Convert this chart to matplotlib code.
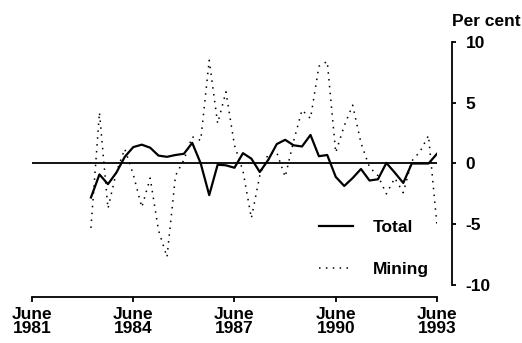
import matplotlib
matplotlib.use("Agg")
import matplotlib.pyplot as plt
import pandas as pd

plt.rcParams['font.family'] = ['Liberation Sans', 'DejaVu Sans']
plt.rcParams['axes.unicode_minus'] = False

# Quarterly data, March 1983 to June 1993
dates = pd.date_range('1983-03-01', '1993-06-01', freq='3MS')
total = [-2.8, -0.9, -1.7, -0.75, 0.55, 1.35, 1.55, 1.3, 0.65, 0.55,
         0.7, 0.8, 1.7, 0.0, -2.6, -0.1, -0.15, -0.35, 0.85, 0.4,
         -0.7, 0.3, 1.6, 1.95, 1.5, 1.4, 2.35, 0.6, 0.7, -1.1,
         -1.85, -1.2, -0.45, -1.4, -1.3, 0.05, -0.75, -1.6, 0.0, 0.0,
         0.0, 0.8]
mining = [-5.3, 4.2, -3.7, -0.7, 1.2, -0.9, -3.6, -1.2, -5.5, -7.7,
          -1.0, 0.3, 2.2, 1.9, 8.5, 3.3, 5.9, 1.5, -0.6, -4.5,
          -1.0, 0.8, 0.9, -1.1, 1.8, 4.4, 3.7, 8.0, 8.4, 0.9,
          3.1, 4.8, 1.7, -0.3, -1.0, -2.5, -1.2, -2.4, 0.2, 1.0,
          2.3, -5.1]

tick_dates = pd.to_datetime(['1981-06-01', '1984-06-01', '1987-06-01',
                             '1990-06-01', '1993-06-01'])
tick_labels = ['June\n1981', 'June\n1984', 'June\n1987', 'June\n1990', 'June\n1993']
y_ticks = [10, 5, 0, -5, -10]

W, H = 522, 343
FS = 12.5
fig = plt.figure(figsize=(W / 100, H / 100), dpi=100)
ax = fig.add_axes([32 / W, 1 - 285 / H, (437 - 32) / W, (285 - 42) / H])

ax.axhline(0, color='black', lw=1.3, zorder=1)
ax.plot(dates, total, color='black', lw=1.6, label='Total', zorder=3)
ax.plot(dates, mining, color='black', lw=1.1, linestyle=(0, (1, 3.5)),
        label='Mining', zorder=2)

ax.set_xlim(tick_dates[0], tick_dates[-1])
ax.set_ylim(-10, 10)

for s in ['top', 'left']:
    ax.spines[s].set_visible(False)
ax.spines['bottom'].set_position(('outward', 8.6))
ax.spines['right'].set_position(('outward', 10.8))
ax.spines['bottom'].set_linewidth(1.3)
ax.spines['right'].set_linewidth(1.3)

ax.set_xticks(tick_dates)
ax.set_xticklabels(tick_labels, fontsize=FS, fontweight='bold', linespacing=0.95)
ax.yaxis.tick_right()
ax.set_yticks(y_ticks)
ax.set_yticklabels([str(v) for v in y_ticks], fontsize=FS, fontweight='bold')
ax.tick_params(axis='x', direction='out', length=3.6, width=1.3, pad=3.5)
ax.tick_params(axis='y', direction='out', length=2.9, width=1.3, pad=7.0)

fig.text(452 / W, 1 - 21 / H, 'Per cent', fontsize=FS, fontweight='bold',
         ha='left', va='center')

leg = ax.legend(loc='lower right', bbox_to_anchor=(1.0, 0.0),
                frameon=False, fontsize=FS, handlelength=1.95,
                handletextpad=1.15, labelspacing=1.55, borderaxespad=0.2,
                borderpad=0.25)
for t in leg.get_texts():
    t.set_fontweight('bold')

fig.savefig('out.png', dpi=100)
